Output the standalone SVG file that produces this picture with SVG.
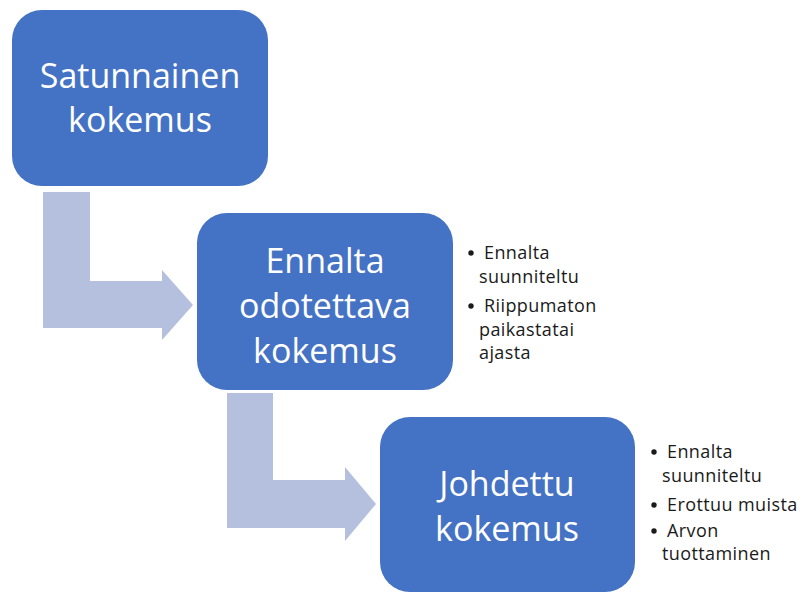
<svg xmlns="http://www.w3.org/2000/svg" width="806" height="594" viewBox="0 0 806 594">
<style>
.box{fill:#4472C4;}
.arrow{fill:#B4C0DE;}
.title{font-family:"Open Sans","Liberation Sans",sans-serif;font-size:34px;fill:#FFFFFF;text-anchor:middle;}
.item{font-family:"Open Sans","Liberation Sans",sans-serif;font-size:18px;fill:#1a1a1a;letter-spacing:0.4px;}
.dot{fill:#1a1a1a;}
</style>
<rect width="806" height="594" fill="#FFFFFF"/>
<g id="connectors">
<polygon class="arrow" points="43,192 90,192 90,281 162,281 162,270 193,305 162,340 162,328 43,328"/>
<polygon class="arrow" points="227,393 273,393 273,480 345,480 345,467 376,504 345,541 345,528 227,528"/>
</g>
<g id="node1">
<rect class="box" x="12" y="10" width="256" height="176" rx="30"/>
<text class="title" x="140" y="88">Satunnainen</text>
<text class="title" x="140" y="132">kokemus</text>
</g>
<g id="node2">
<rect class="box" x="197" y="213" width="256" height="177" rx="30"/>
<text class="title" x="325" y="273">Ennalta</text>
<text class="title" x="325" y="318">odotettava</text>
<text class="title" x="325" y="363">kokemus</text>
</g>
<g id="node3">
<rect class="box" x="380" y="417" width="255" height="175" rx="30"/>
<text class="title" x="507" y="496">Johdettu</text>
<text class="title" x="507" y="541">kokemus</text>
</g>
<g id="list2">
<circle class="dot" cx="471" cy="253" r="2.7"/>
<text class="item" x="484" y="259">Ennalta</text>
<text class="item" x="479" y="283">suunniteltu</text>
<circle class="dot" cx="471" cy="306" r="2.7"/>
<text class="item" x="484" y="312">Riippumaton</text>
<text class="item" x="479" y="336">paikastatai</text>
<text class="item" x="479" y="359">ajasta</text>
</g>
<g id="list3">
<circle class="dot" cx="654" cy="452" r="2.7"/>
<text class="item" x="667" y="458">Ennalta</text>
<text class="item" x="662" y="482">suunniteltu</text>
<circle class="dot" cx="654" cy="505" r="2.7"/>
<text class="item" x="667" y="511">Erottuu muista</text>
<circle class="dot" cx="654" cy="531" r="2.7"/>
<text class="item" x="667" y="537">Arvon</text>
<text class="item" x="662" y="560">tuottaminen</text>
</g>
</svg>
